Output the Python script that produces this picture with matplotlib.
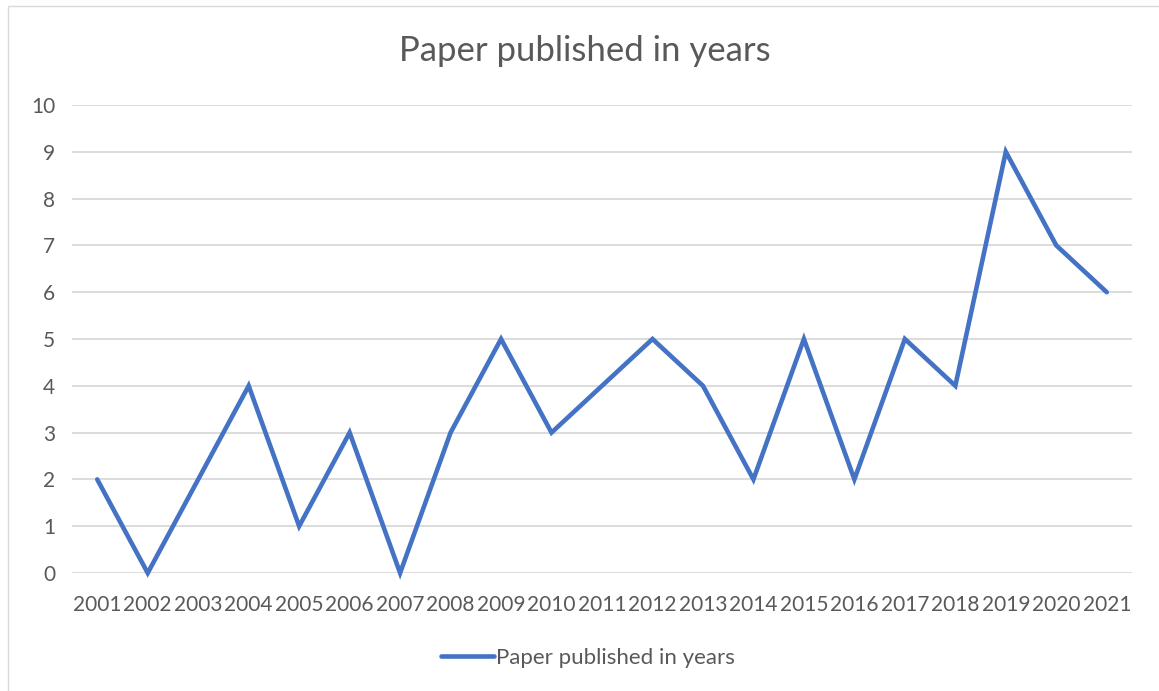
import matplotlib
matplotlib.use("Agg")
import matplotlib.pyplot as plt
from matplotlib.patches import Rectangle
from matplotlib.lines import Line2D

years = ["2001", "2002", "2003", "2004", "2005", "2006", "2007", "2008", "2009", "2010", "2011",
         "2012", "2013", "2014", "2015", "2016", "2017", "2018", "2019", "2020", "2021"]
papers = [2, 0, 2, 4, 1, 3, 0, 3, 5, 3, 4, 5, 4, 2, 5, 2, 5, 4, 9, 7, 6]
yticks = [0, 1, 2, 3, 4, 5, 6, 7, 8, 9, 10]
title = "Paper published in years"
series_name = "Paper published in years"

plt.rcParams['font.family'] = ['Lato', 'DejaVu Sans']
W, H = 1159, 691
fig = plt.figure(figsize=(W / 100, H / 100), dpi=100)
fig.patch.set_facecolor("white")

# chart border
fig.patches.append(Rectangle((8 / W, -0.1), 1.2, 1 - 6 / H + 0.1, transform=fig.transFigure,
                             fill=False, edgecolor="#d9d9d9", linewidth=1.0))

ax = fig.add_axes([72 / W, 1 - 573 / H, (1132 - 72) / W, (573 - 105) / H])
x = list(range(len(years)))
ax.plot(x, papers, color="#4472C4", linewidth=3.3, solid_joinstyle="miter", solid_capstyle="round",
        zorder=3, clip_on=False)
ax.set_xlim(-0.5, len(years) - 0.5)
ax.set_ylim(0, 10)
ax.set_yticks(yticks)
ax.set_yticklabels([str(v) for v in yticks])
ax.set_xticks(x)
ax.set_xticklabels(years)
for s in ax.spines.values():
    s.set_visible(False)
ax.grid(axis="y", color="#d9d9d9", linewidth=1.3, zorder=0)
ax.tick_params(axis="both", length=0, colors="#595959", labelsize=15)
ax.tick_params(axis="y", pad=12)
ax.tick_params(axis="x", pad=16)
ax.set_axisbelow(True)

fig.text(585 / W, 1 - 51 / H, title, ha="center", va="center", fontsize=25, color="#595959")

handle = Line2D([], [], color="#4472C4", linewidth=3.3, solid_capstyle="round")
fig.legend([handle], [series_name], loc="center", bbox_to_anchor=(588 / W, 1 - 658 / H),
           frameon=False, fontsize=16, labelcolor="#595959", handlelength=2.4, handletextpad=0.1)

fig.savefig("out.png", dpi=100)
